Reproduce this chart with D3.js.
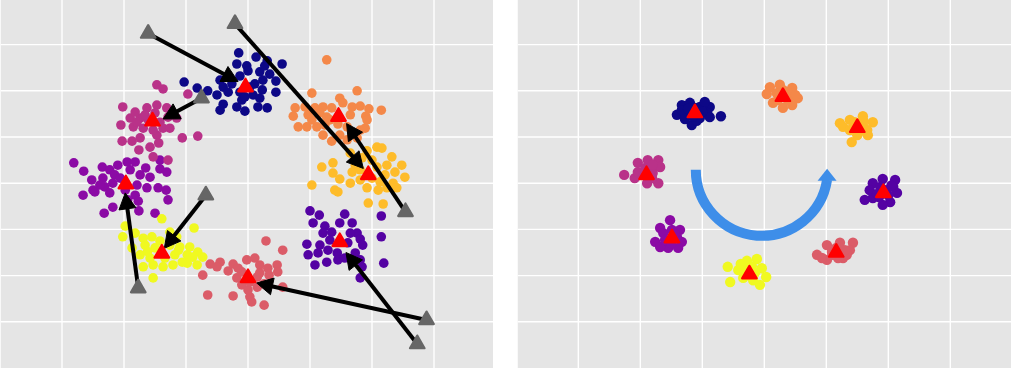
<!DOCTYPE html>
<html><head><meta charset="utf-8">
<script src="https://cdn.jsdelivr.net/npm/d3@7"></script>
<style>html,body{margin:0;padding:0;background:#fff;} svg{display:block}</style>
</head><body><svg id="c" width="1011" height="368"></svg>
<script>
// ---------- data ----------
const clusterNames  = ["navy","indigo","purple","magenta","pink","orange","amber","yellow"];
const clusterColors = ["#0D0887","#5402A3","#8B0AA5","#B93289","#DB5C68","#F48849","#FEBC2A","#F0F921"];
const gridBreaks = [1,2,3,4,5,6,7];

// Left panel: raw points of each cluster
const leftNavy = [[3.85,6.82],[4.13,6.73],[4.31,6.65],[4.55,6.58],[3.82,6.58],[3.98,6.54],[4.00,6.43],[4.19,6.41],[4.35,6.36],[3.87,6.32],[4.45,6.21],[4.24,6.23],[3.55,6.23],[2.97,6.19],[3.18,6.06],[3.35,6.00],[3.60,6.08],[3.68,5.97],[4.11,6.15],[4.23,6.02],[4.45,5.97],[3.50,5.91],[3.87,5.97],[4.08,5.91],[3.60,5.71],[3.55,5.58],[3.82,5.65],[3.95,5.56],[4.16,5.65],[4.31,5.63],[3.90,5.80],[4.19,5.84],[3.74,6.15],[4.03,6.08],[3.95,5.87],[4.27,6.54]];
const leftIndigo = [[5.00,3.40],[5.15,3.31],[5.56,3.33],[6.15,3.29],[5.05,3.14],[5.24,3.07],[5.48,3.14],[5.68,3.14],[5.21,2.92],[5.35,2.94],[5.76,2.92],[6.15,2.84],[4.95,2.68],[5.16,2.66],[5.61,2.71],[5.81,2.79],[5.85,2.66],[4.97,2.45],[5.13,2.49],[5.29,2.55],[5.44,2.49],[5.73,2.49],[5.08,2.23],[5.27,2.29],[5.45,2.34],[5.81,2.34],[6.19,2.27],[5.81,1.95],[5.84,2.19],[5.32,2.77],[5.56,2.38],[5.65,2.92]];
const leftPurple = [[1.19,4.44],[1.35,4.26],[1.65,4.35],[1.77,4.29],[2.05,4.46],[2.18,4.46],[2.35,4.33],[2.58,4.50],[2.58,4.31],[2.69,4.24],[1.48,4.07],[1.66,4.11],[1.85,4.18],[2.26,4.18],[2.42,4.13],[1.50,3.85],[1.69,3.92],[1.82,4.00],[2.21,3.96],[2.37,3.90],[2.55,3.90],[2.68,3.85],[1.34,3.74],[1.53,3.81],[1.77,3.79],[2.18,3.74],[2.23,3.61],[2.71,3.64],[1.82,3.48],[1.68,3.35],[2.24,3.40],[2.50,3.35],[1.94,4.11],[2.02,3.85],[2.10,4.29],[1.90,4.39],[1.61,3.96],[2.06,3.64]];
const leftMagenta = [[2.53,6.13],[2.63,6.04],[3.03,5.93],[1.98,5.65],[2.37,5.63],[2.53,5.69],[2.69,5.63],[2.10,5.41],[2.26,5.41],[2.58,5.32],[2.71,5.43],[2.85,5.41],[1.95,5.26],[2.15,5.22],[2.31,5.19],[2.63,5.19],[2.74,5.19],[1.97,4.91],[2.13,4.91],[2.26,4.98],[2.53,5.04],[2.94,4.98],[3.19,5.02],[2.24,4.72],[2.42,4.78],[2.56,4.87],[2.47,4.57],[2.71,4.50],[2.21,5.32],[2.47,5.15],[2.39,5.37],[2.34,5.48],[2.18,5.54],[2.50,5.52]];
const leftPink = [[4.29,2.75],[4.56,2.55],[3.39,2.25],[3.55,2.29],[3.27,2.01],[3.50,2.19],[3.68,2.10],[3.76,2.25],[3.98,2.34],[4.11,2.38],[4.19,2.23],[4.32,2.16],[4.47,2.23],[3.82,1.95],[4.15,1.97],[4.34,2.01],[4.48,2.08],[3.90,1.80],[4.15,1.75],[4.26,1.82],[4.56,1.75],[3.35,1.58],[3.76,1.56],[4.03,1.54],[4.26,1.36],[4.00,1.69],[3.90,2.08],[4.19,2.06],[4.06,1.43],[3.84,2.16],[4.03,1.86]];
const leftOrange = [[5.27,6.67],[5.03,5.95],[5.76,6.00],[5.48,5.84],[5.53,5.74],[4.76,5.63],[4.92,5.65],[5.08,5.63],[5.21,5.65],[5.35,5.63],[5.68,5.65],[5.81,5.67],[5.95,5.61],[6.15,5.58],[4.73,5.45],[4.97,5.48],[5.16,5.52],[5.27,5.43],[5.65,5.48],[5.90,5.45],[4.81,5.22],[4.95,5.22],[5.11,5.22],[5.24,5.26],[5.60,5.22],[5.81,5.15],[5.92,5.37],[5.89,5.19],[5.21,5.04],[5.35,4.91],[5.48,5.04],[5.60,4.94],[5.76,4.98],[5.32,5.37],[5.03,5.37],[5.45,5.28]];
const leftAmber = [[6.08,4.78],[6.16,4.76],[5.92,4.70],[5.65,4.65],[6.32,4.57],[5.37,4.44],[5.19,4.35],[5.73,4.39],[6.48,4.39],[6.24,4.39],[5.37,4.22],[5.68,4.24],[6.37,4.24],[6.53,4.13],[5.48,4.09],[5.03,3.96],[5.65,4.00],[5.81,4.07],[6.13,4.03],[6.34,4.00],[5.40,3.85],[5.45,3.81],[5.92,3.90],[6.10,3.85],[6.24,3.90],[5.94,3.57],[6.18,3.55],[6.08,4.35],[5.81,4.29],[6.00,4.11],[6.21,4.18],[6.40,3.90],[5.84,4.55],[6.00,4.50]];
const leftYellow = [[2.61,3.23],[3.13,3.03],[2.02,3.07],[1.98,2.84],[2.18,2.92],[2.31,2.81],[2.45,2.84],[2.74,2.94],[2.85,2.84],[2.13,2.60],[2.34,2.66],[2.74,2.66],[2.90,2.62],[3.06,2.62],[3.19,2.51],[3.27,2.40],[2.26,2.45],[2.82,2.45],[3.02,2.45],[3.11,2.40],[2.31,2.19],[2.47,2.23],[2.63,2.19],[2.79,2.23],[3.02,2.27],[3.18,2.23],[2.47,1.95],[2.50,2.60],[2.66,2.38],[2.42,2.38],[2.58,2.75],[2.94,2.29],[2.38,2.52],[2.88,2.55]];

// Left panel: centroids, initial (random) starts and arrow tips, in cluster order
const leftCenters = [[3.96,6.08],[5.48,2.73],[2.03,3.98],[2.46,5.34],[4.00,1.95],[5.46,5.44],[5.94,4.18],[2.61,2.48]];
const startPoints = [[2.39,7.24],[6.73,0.52],[2.23,1.73],[3.25,5.84],[6.88,1.04],[6.54,3.38],[3.79,7.45],[3.32,3.74]];
const arrowTips   = [[3.84,6.20],[5.58,2.50],[2.02,3.79],[2.63,5.39],[4.14,1.84],[5.59,5.29],[5.86,4.32],[2.65,2.59]];

// Right panel: points of each cluster
const rightNavy = [[2.67,5.69],[2.80,5.74],[2.96,5.65],[3.12,5.65],[2.59,5.48],[2.75,5.52],[3.08,5.52],[3.30,5.45],[2.83,5.26],[2.96,5.41],[2.67,5.58],[3.12,5.43],[2.72,5.39],[2.88,5.63],[2.91,5.35],[3.04,5.76],[2.77,5.61],[2.85,5.45],[3.00,5.55]];
const rightIndigo = [[5.75,4.00],[5.91,4.09],[6.11,4.07],[6.14,3.79],[6.03,3.59],[5.91,3.53],[5.75,3.68],[5.62,3.64],[5.70,3.85],[6.08,3.92],[5.87,3.92],[6.00,3.74],[5.82,3.77],[5.95,3.85],[5.85,3.70],[6.05,3.95]];
const rightPurple = [[2.48,3.20],[2.32,3.03],[2.64,2.99],[2.24,2.73],[2.67,2.73],[2.45,2.60],[2.61,2.60],[2.37,2.92],[2.59,2.84],[2.32,2.62],[2.51,2.99],[2.40,2.77],[2.50,2.70],[2.55,2.90]];
const rightMagenta = [[1.74,4.18],[1.96,4.44],[2.12,4.50],[2.29,4.50],[2.32,4.35],[2.29,4.00],[2.11,4.00],[1.91,4.11],[1.96,4.24],[2.20,4.22],[2.08,4.33],[2.19,4.11],[2.05,4.20],[2.20,4.40]];
const rightPink = [[4.85,2.45],[5.01,2.66],[5.22,2.71],[5.43,2.71],[5.38,2.55],[5.27,2.38],[5.01,2.34],[4.93,2.38],[5.09,2.51],[5.33,2.45],[5.16,2.60],[5.19,2.38],[5.10,2.45],[5.30,2.55]];
const rightOrange = [[4.09,6.08],[4.25,6.13],[4.45,6.06],[4.04,5.93],[4.54,5.84],[4.14,5.74],[4.30,5.63],[4.45,5.69],[4.20,5.95],[4.37,5.97],[4.50,5.91],[4.22,5.80],[4.38,5.80],[4.30,6.02],[4.35,5.85],[4.25,5.90]];
const rightAmber = [[5.22,5.30],[5.38,5.37],[5.59,5.45],[5.75,5.32],[5.66,5.15],[5.67,5.04],[5.41,4.89],[5.50,5.04],[5.27,5.22],[5.38,5.15],[5.59,5.26],[5.46,5.32],[5.54,5.13],[5.45,5.20],[5.60,5.35]];
const rightYellow = [[3.41,2.19],[3.45,1.86],[3.58,2.12],[3.72,2.32],[3.88,2.36],[3.96,2.16],[4.03,1.97],[3.93,1.80],[3.66,1.95],[3.82,1.90],[3.74,2.16],[3.62,2.25],[3.85,2.06],[3.80,2.20],[3.70,2.05]];
const rightCenters = [[2.88,5.52],[5.92,3.79],[2.51,2.81],[2.10,4.18],[5.16,2.50],[4.30,5.87],[5.50,5.20],[3.76,2.03]];

// rotation arrow annotation (right panel): centre and radius in x units
const arcCenter = [3.96, 4.29];
const arcRadiusX = 1.065;

const leftClusters  = [leftNavy, leftIndigo, leftPurple, leftMagenta, leftPink, leftOrange, leftAmber, leftYellow];
const rightClusters = [rightNavy, rightIndigo, rightPurple, rightMagenta, rightPink, rightOrange, rightAmber, rightYellow];

// ---------- drawing ----------
const svg = d3.select("#c");
const y  = d3.scaleLinear().domain([0, 8]).range([368, -1.6]);
const xL = d3.scaleLinear().domain([0, 8]).range([0, 496]);
const xR = d3.scaleLinear().domain([0, 8]).range([516.3, 1012.3]);
const color = d3.scaleOrdinal().domain(clusterNames).range(clusterColors);

const panels = [
  {x: xL, x0: 0.5, x1: 493, id: "pl"},
  {x: xR, x0: 517.5, x1: 1011, id: "pr"}
];
const defs = svg.append("defs");
const groups = panels.map(p => {
  defs.append("clipPath").attr("id", p.id).append("rect")
    .attr("x", p.x0).attr("y", 0).attr("width", p.x1 - p.x0).attr("height", 368);
  const g = svg.append("g").attr("clip-path", `url(#${p.id})`);
  g.append("rect").attr("x", p.x0).attr("y", 0).attr("width", p.x1 - p.x0).attr("height", 368)
    .attr("fill", "#E5E5E5");
  g.selectAll("line.v").data(gridBreaks).join("line").attr("class", "v")
    .attr("x1", d => p.x(d)).attr("x2", d => p.x(d)).attr("y1", 0).attr("y2", 368)
    .attr("stroke", "#fff").attr("stroke-width", 1.4);
  g.selectAll("line.h").data(gridBreaks).join("line").attr("class", "h")
    .attr("y1", d => y(d)).attr("y2", d => y(d)).attr("x1", p.x0).attr("x2", p.x1)
    .attr("stroke", "#fff").attr("stroke-width", 1.4);
  return g;
});
const gL = groups[0], gR = groups[1];

function drawPoints(g, x, clusters, r) {
  clusters.forEach((pts, i) => {
    g.append("g").selectAll("circle").data(pts).join("circle")
      .attr("cx", d => x(d[0])).attr("cy", d => y(d[1])).attr("r", r)
      .attr("fill", color(clusterNames[i]));
  });
}
drawPoints(gL, xL, leftClusters, 4.8);
drawPoints(gR, xR, rightClusters, 5.2);

// arrows (left)
const headL = 16, headW = 8.5;
const arrowG = gL.append("g");
startPoints.forEach((s, i) => {
  const sx = xL(s[0]), sy = y(s[1]);
  const tx = xL(arrowTips[i][0]), ty = y(arrowTips[i][1]);
  const dx = tx - sx, dy = ty - sy, len = Math.hypot(dx, dy);
  const ux = dx / len, uy = dy / len;
  const bx = tx - ux * headL, by = ty - uy * headL;
  arrowG.append("line").attr("x1", sx).attr("y1", sy)
    .attr("x2", bx + ux * 2).attr("y2", by + uy * 2)
    .attr("stroke", "#000").attr("stroke-width", 4);
  arrowG.append("path")
    .attr("d", `M${tx},${ty}L${bx - uy * headW},${by + ux * headW}L${bx + uy * headW},${by - ux * headW}Z`)
    .attr("fill", "#000").attr("stroke", "#000").attr("stroke-width", 1).attr("stroke-linejoin", "miter");
});

const tri = d3.symbol(d3.symbolTriangle, 92);
function drawTriangles(g, x, pts, fill) {
  g.append("g").selectAll("path").data(pts).join("path")
    .attr("d", tri).attr("transform", d => `translate(${x(d[0])},${y(d[1])})`)
    .attr("fill", fill).attr("stroke", fill).attr("stroke-width", 2.2).attr("stroke-linejoin", "round");
}
drawTriangles(gL, xL, startPoints, "#666666");
drawTriangles(gL, xL, leftCenters, "#FF0000");

// rotation arc (right)
const acx = xR(arcCenter[0]), acy = y(arcCenter[1]);
const ar = xR(arcCenter[0] + arcRadiusX) - acx;
const endOff = 10;                          // arc stops where the head begins
const endAng = Math.asin(endOff / ar);
const p = d3.path();
p.moveTo(acx - ar, acy);
p.arc(acx, acy, ar, Math.PI, endAng, true);
gR.append("path").attr("d", p.toString()).attr("fill", "none")
  .attr("stroke", "#3E8EE9").attr("stroke-width", 10);
const hx = acx + ar * Math.cos(endAng), hy = acy + endOff + 1;
gR.append("path")
  .attr("d", `M${hx},${acy - 1}L${hx - 9.5},${hy}L${hx + 9.5},${hy}Z`)
  .attr("fill", "#3E8EE9");

drawTriangles(gR, xR, rightCenters, "#FF0000");
</script>
</body></html>
